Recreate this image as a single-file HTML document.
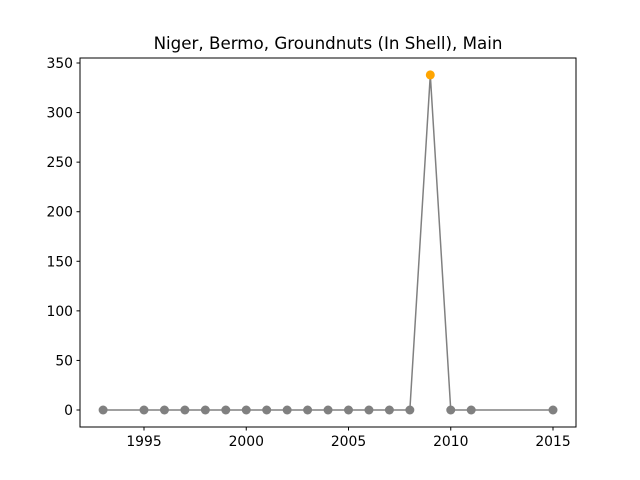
<!DOCTYPE html>
<html><head><meta charset="utf-8"><style>body{margin:0;background:#fff}svg{display:block;font-family:"DejaVu Sans","Liberation Sans",sans-serif}</style></head>
<body>
<svg id="chart" width="640" height="480">
<rect x="0" y="0" width="640" height="480" fill="#fff"/>
<text x="328" y="49" text-anchor="middle" font-size="16.7">Niger, Bermo, Groundnuts (In Shell), Main</text>
<g id="plot"></g>
<rect x="80" y="58" width="496" height="369" fill="none" stroke="#000" stroke-width="1"/>
</svg>
<script>
const years=[1993,1995,1996,1997,1998,1999,2000,2001,2002,2003,2004,2005,2006,2007,2008,2009,2010,2011,2015];
const values=[0,0,0,0,0,0,0,0,0,0,0,0,0,0,0,338,0,0,0];
const xTicks=[1995,2000,2005,2010,2015];
const yTicks=[0,50,100,150,200,250,300,350];
const highlightYear=2009;
const NS="http://www.w3.org/2000/svg";
const xs=v=>144+(v-1995)*(409/20);
const ys=v=>410-v*(347/350);
const g=document.getElementById('plot');
function mk(t,a){const e=document.createElementNS(NS,t);for(const k in a)e.setAttribute(k,a[k]);g.appendChild(e);return e;}
xTicks.forEach(t=>{
 const l=mk('line',{x1:xs(t),x2:xs(t),y1:427,y2:430.5,stroke:'#000'});
 
 
 const tx=mk('text',{x:xs(t),y:446,'text-anchor':'middle','font-size':'13.9'});tx.textContent=t;
 
 
});
yTicks.forEach(t=>{
 const l=mk('line',{x1:76.5,x2:80,y1:ys(t),y2:ys(t),stroke:'#000'});
 
 
 const tx=mk('text',{x:73,y:ys(t)+5,'text-anchor':'end','font-size':'13.9'});tx.textContent=t;
 
 
});
const pts=years.map((y,i)=>xs(y)+','+ys(values[i])).join(' ');
const pl=mk('polyline',{points:pts,fill:'none',stroke:'#808080','stroke-width':1.5});


years.forEach((y,i)=>{
 const c=mk('circle',{cx:xs(y),cy:ys(values[i]),r:4.5,fill:y===highlightYear?'#ffa500':'#808080'});
 
 
});
</script>
</body></html>
